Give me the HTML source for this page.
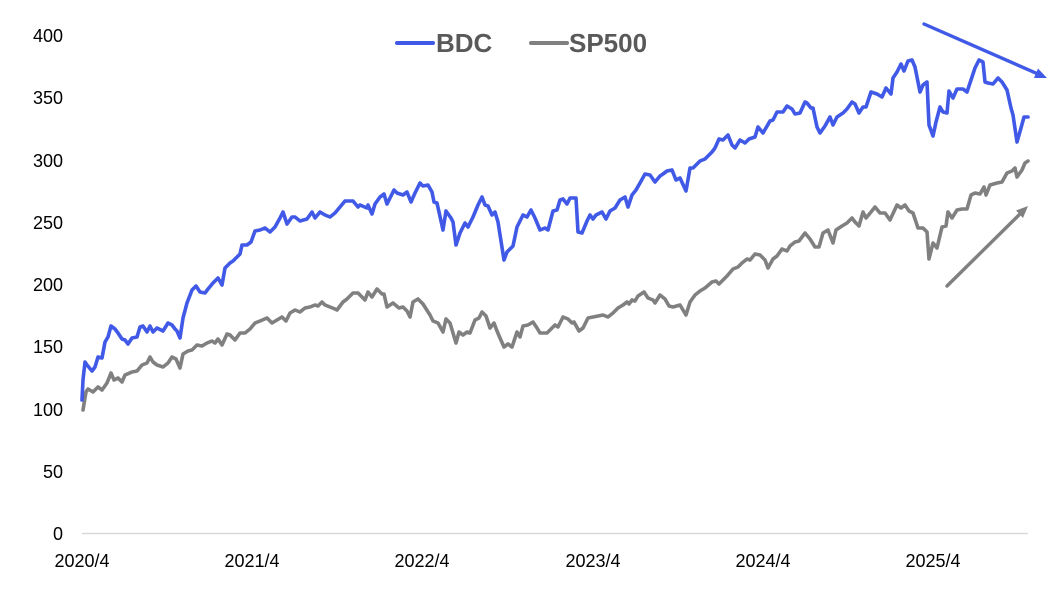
<!DOCTYPE html>
<html>
<head>
<meta charset="utf-8">
<style>
  html,body{margin:0;padding:0;background:#fff;}
  body{width:1057px;height:616px;overflow:hidden;}
  svg{display:block;}
  .yl{font-family:"Liberation Sans",sans-serif;font-size:18px;fill:#000;text-anchor:end;}
  .xl{font-family:"Liberation Sans",sans-serif;font-size:18px;fill:#000;text-anchor:middle;}
  .lg{font-family:"Liberation Sans",sans-serif;font-size:26px;font-weight:bold;fill:#595959;}
</style>
</head>
<body>
<svg width="1057" height="616" viewBox="0 0 1057 616" xmlns="http://www.w3.org/2000/svg">
  <rect width="1057" height="616" fill="#fff"/>
  <!-- y labels -->
  <text class="yl" x="63" y="42">400</text>
  <text class="yl" x="63" y="104">350</text>
  <text class="yl" x="63" y="167">300</text>
  <text class="yl" x="63" y="229">250</text>
  <text class="yl" x="63" y="291">200</text>
  <text class="yl" x="63" y="353">150</text>
  <text class="yl" x="63" y="416">100</text>
  <text class="yl" x="63" y="478">50</text>
  <text class="yl" x="63" y="540">0</text>
  <!-- x axis -->
  <line x1="82" y1="533.5" x2="1028" y2="533.5" stroke="#d9d9d9" stroke-width="1.5"/>
  <text class="xl" x="82" y="567">2020/4</text>
  <text class="xl" x="252" y="567">2021/4</text>
  <text class="xl" x="422" y="567">2022/4</text>
  <text class="xl" x="593" y="567">2023/4</text>
  <text class="xl" x="763" y="567">2024/4</text>
  <text class="xl" x="933" y="567">2025/4</text>
  <!-- legend -->
  <line x1="397" y1="43" x2="433" y2="43" stroke="#4059e6" stroke-width="4" stroke-linecap="round"/>
  <text class="lg" x="436" y="52">BDC</text>
  <line x1="531" y1="43" x2="567" y2="43" stroke="#808080" stroke-width="4" stroke-linecap="round"/>
  <text class="lg" x="569" y="52">SP500</text>
  <!-- SP500 -->
  <polyline fill="none" stroke="#808080" stroke-width="3.6" stroke-linejoin="round" stroke-linecap="round" points="83,410 86,392 88,389 93,392 98,387 102,390 107,383 111,373 114,380 118,378 122,382 125,375 132,372 137,371 142,365 147,363 150,357 153,362 157,365 163,367 168,363 172,357 176,359 180,368 183,354 188,351 192,350 197,345 202,346 207,343 212,341 215,343 218,339 222,345 227,334 230,335 235,340 240,333 245,333 250,329 255,323 260,321 267,318 272,323 277,320 282,317 286,321 290,313 295,310 300,312 305,308 310,307 315,305 318,306 322,302 325,305 330,307 335,309 337,310 343,302 347,299 353,293 358,293 360,295 365,300 368,292 372,297 377,289 382,294 384,294 387,307 393,303 399,308 403,307 407,311 410,317 413,302 418,299 423,304 430,315 433,321 438,323 443,332 446,319 450,323 456,343 459,332 463,335 467,332 470,333 475,320 479,318 482,312 486,316 490,328 494,323 497,331 500,338 504,347 508,344 512,347 517,332 520,337 523,326 528,325 533,322 537,328 540,333 547,333 551,329 555,325 558,327 563,317 568,319 572,323 574,322 579,331 583,328 588,318 593,317 598,316 603,315 608,317 613,313 618,308 623,305 627,302 629,304 632,300 635,301 638,296 644,292 648,298 653,300 655,303 660,295 665,299 669,306 673,307 680,305 686,315 690,302 695,295 700,291 705,288 712,282 716,281 719,284 727,276 733,269 738,267 742,263 747,259 750,260 755,254 760,255 765,260 768,268 773,259 777,256 782,249 787,251 790,246 795,242 799,241 805,233 810,239 815,247 819,247 823,233 828,230 833,243 836,230 842,226 847,223 852,218 855,222 859,226 863,212 866,218 871,212 875,207 880,213 885,213 890,220 897,205 901,208 905,205 909,211 913,213 918,228 923,228 927,232 929,259 933,243 937,248 942,227 946,226 948,212 952,218 957,210 962,209 967,209 971,195 975,193 980,194 984,187 986,195 990,185 997,183 1002,182 1007,173 1012,171 1015,168 1017,177 1022,170 1025,163 1028,161"/>
  <!-- BDC -->
  <polyline fill="none" stroke="#4059e6" stroke-width="3.6" stroke-linejoin="round" stroke-linecap="round" points="82,400 83,380 85,362 87,365 92,371 95,367 98,357 102,358 105,342 108,337 111,326 115,329 118,333 122,339 125,340 128,344 132,338 137,337 140,327 143,326 147,332 150,326 153,332 157,328 163,331 168,323 172,325 175,329 177,331 180,338 183,318 187,303 192,290 196,286 200,292 205,293 208,289 213,283 218,278 222,285 225,268 230,263 233,261 237,257 240,254 242,245 247,245 251,242 255,231 260,230 265,228 270,232 275,227 280,218 283,212 287,224 292,217 295,217 300,221 307,219 312,212 315,218 320,212 325,215 330,217 335,213 340,207 345,201 353,201 358,207 360,205 367,208 368,205 372,214 375,204 380,197 384,194 387,204 394,190 397,193 403,195 407,192 411,202 415,193 420,183 423,186 428,185 432,192 434,202 437,203 443,230 446,211 451,218 453,222 456,245 460,233 465,223 468,227 473,217 478,205 482,197 485,205 488,206 492,215 495,212 498,222 504,260 507,252 513,246 517,227 523,215 527,217 531,210 535,218 540,230 545,228 548,230 553,211 557,210 560,200 563,199 567,204 570,198 576,198 578,232 582,233 587,221 590,215 593,219 596,215 602,212 606,219 610,211 615,208 620,200 625,197 628,207 632,195 636,190 640,183 645,174 650,175 655,182 660,176 663,174 667,171 672,170 676,180 680,178 686,191 690,168 693,168 700,161 705,159 712,152 715,148 719,139 723,140 728,135 732,145 735,148 740,140 745,143 749,139 755,137 758,127 763,133 770,121 773,120 777,112 783,112 787,106 792,109 795,114 800,113 805,102 807,103 811,108 813,108 817,127 820,133 825,126 830,117 833,125 837,117 843,113 847,109 852,102 855,104 859,113 863,107 866,107 871,92 877,94 882,97 886,88 891,94 893,78 897,72 901,64 904,71 908,61 912,60 915,67 920,92 923,85 927,82 929,125 933,136 936,122 940,107 943,112 947,113 949,91 953,98 957,89 963,89 967,92 970,83 975,68 979,60 983,62 985,82 988,83 993,84 998,78 1002,82 1007,90 1011,108 1013,115 1017,142 1021,128 1024,117 1028,117"/>
  <!-- arrows -->
  <line x1="924" y1="24" x2="1038" y2="74" stroke="#4059e6" stroke-width="3.4" stroke-linecap="round"/>
  <polygon points="1047,78 1034,78 1038,68.5" fill="#4059e6"/>
  <line x1="947" y1="286" x2="1021" y2="213" stroke="#808080" stroke-width="3.4" stroke-linecap="round"/>
  <polygon points="1028,206 1023,218 1016,210.5" fill="#808080"/>
</svg>
</body>
</html>
